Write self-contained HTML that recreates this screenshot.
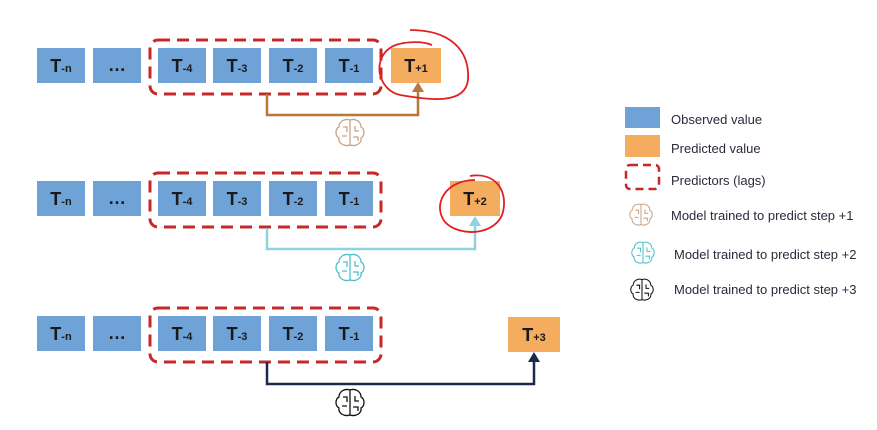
<!DOCTYPE html><html><head><style>body{margin:0;background:#fff}</style></head><body>
<svg width="877" height="425" xmlns="http://www.w3.org/2000/svg" font-family="Liberation Sans, sans-serif">
<defs>
<g id="brain" fill="none" stroke-width="1.3">
<path d="M0,-13 C-6,-15 -11,-11 -11,-6 C-15,-4 -15,3 -11,5 C-12,10 -6,14 0,12 C6,14 12,10 11,5 C15,3 15,-4 11,-6 C11,-11 6,-15 0,-13 Z M0,-13 V12 M-7,-6 h4 v5 M-8,3 h5 M5,-7 v5 h4 M3,4 h5 v4"/>
</g>
</defs>
<g font-weight="bold" fill="#1a1a1a" text-anchor="middle">
<!-- rows -->
<g id="r1">
<rect x="37" y="48" width="48" height="35" fill="#6fa3d8"/><text x="61" y="72" font-size="18">T<tspan font-size="11">-n</tspan></text>
<rect x="93" y="48" width="48" height="35" fill="#6fa3d8"/><text x="117" y="71" font-size="18">…</text>
<rect x="158" y="48" width="48" height="35" fill="#6fa3d8"/><text x="182" y="72" font-size="18">T<tspan font-size="11">-4</tspan></text>
<rect x="213" y="48" width="48" height="35" fill="#6fa3d8"/><text x="237" y="72" font-size="18">T<tspan font-size="11">-3</tspan></text>
<rect x="269" y="48" width="48" height="35" fill="#6fa3d8"/><text x="293" y="72" font-size="18">T<tspan font-size="11">-2</tspan></text>
<rect x="325" y="48" width="48" height="35" fill="#6fa3d8"/><text x="349" y="72" font-size="18">T<tspan font-size="11">-1</tspan></text>
<rect x="150" y="40" width="231" height="54" rx="8" fill="none" stroke="#c62828" stroke-width="3" stroke-dasharray="12,7"/>
</g>
<use href="#r1" y="133"/>
<use href="#r1" y="268"/>
<rect x="391" y="48" width="50" height="35" fill="#f4ac5e"/><text x="416" y="72" font-size="18">T<tspan font-size="11">+1</tspan></text>
<rect x="450" y="181" width="50" height="35" fill="#f4ac5e"/><text x="475" y="205" font-size="18">T<tspan font-size="11">+2</tspan></text>
<rect x="508" y="317" width="52" height="35" fill="#f4ac5e"/><text x="534" y="341" font-size="18">T<tspan font-size="11">+3</tspan></text>
</g>
<!-- arrows -->
<path d="M267,94 V115 H418 V86" fill="none" stroke="#b8773d" stroke-width="2.5"/><path d="M412,92 L418,82 L424,92 Z" fill="#b8773d"/>
<path d="M267,228 V249 H475 V220" fill="none" stroke="#8fd3e0" stroke-width="2.5"/><path d="M469,226 L475,216 L481,226 Z" fill="#8fd3e0"/>
<path d="M267,362 V384 H534 V356" fill="none" stroke="#1c2a4a" stroke-width="2.5"/><path d="M528,362 L534,352 L540,362 Z" fill="#1c2a4a"/>
<use href="#brain" x="350" y="133" stroke="#c9a384"/>
<use href="#brain" x="350" y="268" stroke="#4fbfcc"/>
<use href="#brain" x="350" y="403" stroke="#111"/>
<!-- red circles -->
<path d="M410,30 C450,30 470,50 468,80 C465,105 430,100 400,95 C378,90 372,60 390,48 C398,42 420,40 432,45" fill="none" stroke="#e02020" stroke-width="1.8"/>
<path d="M470,176 C495,172 508,190 503,212 C497,235 460,238 445,222 C432,205 445,180 475,180" fill="none" stroke="#e02020" stroke-width="1.8"/>
<!-- legend -->
<rect x="625" y="107" width="35" height="21" fill="#6fa3d8"/>
<rect x="625" y="135" width="35" height="22" fill="#f4ac5e"/>
<rect x="626" y="165" width="33" height="24" rx="4" fill="none" stroke="#c62828" stroke-width="2.5" stroke-dasharray="8,5"/>
<g transform="translate(641,215) scale(0.8)"><use href="#brain" stroke="#c9a384"/></g>
<g transform="translate(643,253) scale(0.8)"><use href="#brain" stroke="#4fbfcc"/></g>
<g transform="translate(642,290) scale(0.8)"><use href="#brain" stroke="#111"/></g>
<g font-size="13" fill="#2a2a3a">
<text x="671" y="124">Observed value</text>
<text x="671" y="153">Predicted value</text>
<text x="671" y="185">Predictors (lags)</text>
<text x="671" y="220">Model trained to predict step +1</text>
<text x="674" y="259">Model trained to predict step +2</text>
<text x="674" y="294">Model trained to predict step +3</text>
</g>
</svg>
</body></html>
